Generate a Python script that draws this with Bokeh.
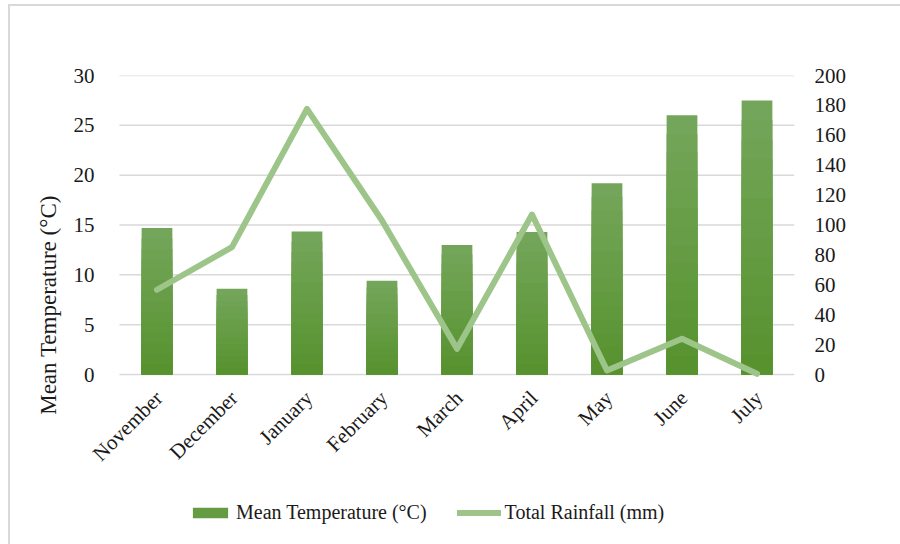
import math
from bokeh.plotting import figure
from bokeh.models import (Range1d, LinearAxis, Legend, LegendItem,
                          SingleIntervalTicker, ColumnDataSource)
from bokeh.core.properties import value
from bokeh.embed import file_html
from bokeh.resources import INLINE

# Monthly climate data
months = ["November", "December", "January", "February", "March",
          "April", "May", "June", "July"]
mean_temp = [14.7, 8.6, 14.35, 9.4, 13.0, 14.3, 19.2, 26.0, 27.5]
rainfall = [56.7, 85.2, 177.7, 103.0, 17.2, 107.0, 2.7, 23.9, 0.5]
temp_ticks = [0, 5, 10, 15, 20, 25, 30]

FONT = "Liberation Serif"
TEXT = "#1a1a1a"
GRID = "#d9d9d9"
BAR_TOP = (0x73, 0xa6, 0x5a)
BAR_BOTTOM = (0x58, 0x92, 0x2f)
LINE = "#9dc58a"

TEMP_MAX, RAIN_MAX = 30, 200
pos = list(range(len(months)))          # category slots
first, last = pos[0] - 0.5, pos[-1] + 0.5
# the frame reaches below zero and left of the first slot so that the
# slanted month labels and the legend sit inside it
below = 16.05
left_pad = 0.653

p = figure(x_range=Range1d(first - left_pad, last), y_range=Range1d(-below, TEMP_MAX),
           frame_width=724, frame_height=459,
           output_backend="svg", toolbar_location=None,
           min_border_left=60, min_border_right=106,
           min_border_top=69, min_border_bottom=10)
p.styles = {"margin-left": "8px", "margin-top": "4px",
            "border-left": "2px solid #d9d9d9", "border-top": "2px solid #d9d9d9"}
p.outline_line_color = None
p.background_fill_color = "white"
p.border_fill_color = "white"

p.extra_y_ranges = {"rain": Range1d(-below * RAIN_MAX / TEMP_MAX, RAIN_MAX)}

# horizontal gridlines across the category slots
p.segment(x0=[first] * len(temp_ticks), x1=[last] * len(temp_ticks),
          y0=temp_ticks, y1=temp_ticks, line_color=GRID, line_width=1.5)

# Bars with a vertical gradient: nested bars from the base, lightest first
N = 14
bar_layers = []
for k in range(N):
    t = k / (N - 1)
    c = tuple(round(BAR_TOP[i] + (BAR_BOTTOM[i] - BAR_TOP[i]) * t) for i in range(3))
    col = "#%02x%02x%02x" % c
    frac = (N - k) / N
    bar_layers.append(p.vbar(x=pos, top=[v * frac for v in mean_temp], width=0.41,
                             fill_color=col, line_color=None))

rain_line = p.line(x=pos, y=rainfall, y_range_name="rain", line_color=LINE,
                   line_width=6, line_join="round", line_cap="round")

# month labels under the baseline, slanted at 45 degrees
label_src = ColumnDataSource(dict(x=pos, y=[0] * len(months), text=months))
p.text(x="x", y="y", text="text", source=label_src, angle=math.pi / 4,
       text_align="right", text_baseline="middle", x_offset=2, y_offset=20,
       text_font=value(FONT), text_font_size="21px", text_color=TEXT)

p.xaxis.visible = False
p.xgrid.grid_line_color = None
p.ygrid.grid_line_color = None

# left axis (labels pulled in towards the first slot)
p.yaxis.ticker = SingleIntervalTicker(interval=5)
p.yaxis.bounds = (0, TEMP_MAX)
p.yaxis.axis_line_color = None
p.yaxis.major_tick_line_color = None
p.yaxis.minor_tick_line_color = None
p.yaxis.major_label_text_font = FONT
p.yaxis.major_label_text_color = TEXT
p.yaxis.major_label_text_font_size = "21px"
p.yaxis.major_label_standoff = -30
p.yaxis.axis_label = "Mean Temperature (°C)"
p.yaxis.axis_label_text_font = FONT
p.yaxis.axis_label_text_font_style = "normal"
p.yaxis.axis_label_text_font_size = "23px"
p.yaxis.axis_label_text_color = TEXT
p.yaxis.axis_label_standoff = 10

# right axis
right = LinearAxis(y_range_name="rain", ticker=SingleIntervalTicker(interval=20),
                   bounds=(0, RAIN_MAX))
right.axis_line_color = None
right.major_tick_line_color = None
right.minor_tick_line_color = None
right.major_label_text_font = FONT
right.major_label_text_font_size = "21px"
right.major_label_text_color = TEXT
right.major_label_standoff = 14
p.add_layout(right, "right")

legend = Legend(items=[LegendItem(label="Mean Temperature (°C)", renderers=[bar_layers[N // 2]]),
                       LegendItem(label="Total Rainfall (mm)", renderers=[rain_line])],
                orientation="horizontal", location=(118, 10),
                glyph_width=44, glyph_height=13, label_text_font=FONT,
                label_text_font_size="20px", label_text_color=TEXT,
                spacing=30, label_standoff=4, padding=0, margin=0,
                border_line_color=None, background_fill_alpha=0)
p.add_layout(legend, "center")

open("out.html", "w").write(file_html(p, INLINE))
